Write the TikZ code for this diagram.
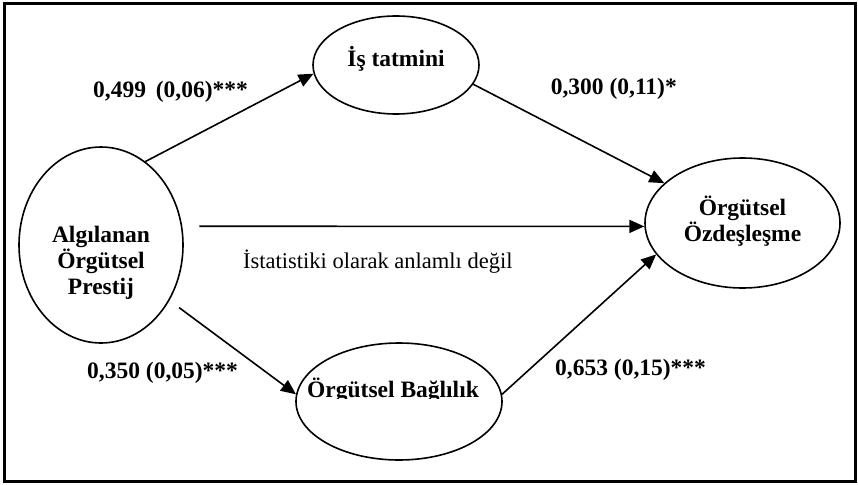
\documentclass[tikz,border=0pt]{standalone}
\usepackage{fontspec}
\setmainfont{Liberation Serif}
\usetikzlibrary{shapes.geometric,arrows.meta}
\begin{document}
\begin{tikzpicture}[x=1pt,y=-1pt,
  lat/.style={draw, ellipse, line width=1.6pt, inner sep=0pt},
  lbl/.style={font=\fontsize{23.5}{26}\selectfont\bfseries, inner sep=0pt},
  coef/.style={font=\fontsize{23.5}{26}\selectfont\bfseries, inner sep=0pt, anchor=west},
  plain/.style={font=\fontsize{22.5}{26}\selectfont, inner sep=0pt, anchor=west},
  conn/.style={line width=1.6pt, -{Triangle[length=15pt,width=13pt]}}
]
\useasboundingbox (0,0) rectangle (858,484);
\draw[line width=3pt] (4.5,4) rectangle (855.5,481.5);

% latent variables
\node[lat, minimum width=164pt, minimum height=196pt] (L) at (101,245) {};
\node[lat, minimum width=166pt, minimum height=98pt] (T) at (396,65) {};
\node[lat, minimum width=195pt, minimum height=130pt] (R) at (742.5,223) {};
\node[lat, minimum width=206pt, minimum height=117pt] (B) at (399,401.5) {};

% texts inside
\node[lbl, align=center] (tL) at (101,263) {Algılanan\\Örgütsel\\Prestij};
\node[lbl, anchor=base] (tT) at (396,67) {İş tatmini};
\node[lbl, align=center] (tR) at (742.5,221) {Örgütsel\\Özdeşleşme};
\begin{scope}
  \clip (280,330) rectangle (520,398.5);
  \node[lbl, anchor=base] (tB) at (393,397) {Örgütsel Bağlılık};
\end{scope}

% paths
\draw[conn] (L.62) -- (T.186);
\draw[conn] (T.-14) -- (R.153);
\draw[conn, shorten <=17pt] (L.13) -- (R.182);
\draw[conn, shorten <=12pt] (L.-39) -- (B.176);
\draw[conn] (B.4) -- (R.200);

% coefficients
\node[coef] (c1) at (93,92) {0,499\,\ (0,06)***};
\node[coef, anchor=east] (c2) at (677,89) {0,300 (0,11)*};
\node[coef] (c4) at (87,373) {0,350 (0,05)***};
\node[coef] (c5) at (555,370) {0,653 (0,15)***};
\node[plain] (ns) at (243,262) {İstatistiki olarak anlamlı değil};
\end{tikzpicture}
\end{document}
